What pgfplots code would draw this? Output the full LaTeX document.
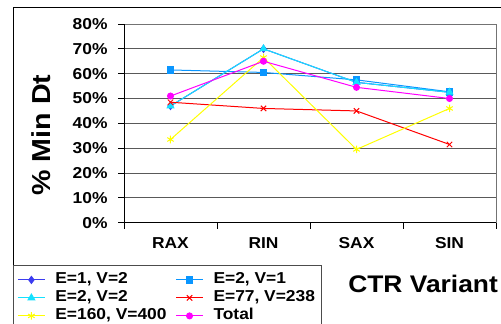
\documentclass[border=0pt]{standalone}
\usepackage{pgfplots}
\pgfplotsset{compat=1.18}
\usepackage{fontspec}
\setmainfont{Liberation Sans}[FakeStretch=1.1]

\definecolor{serA}{RGB}{60,60,240}
\definecolor{serB}{RGB}{10,150,255}
\definecolor{serC}{RGB}{20,225,255}
\definecolor{serD}{RGB}{255,0,0}
\definecolor{serE}{RGB}{255,255,0}
\definecolor{serF}{RGB}{255,0,255}

\begin{document}
\begin{tikzpicture}[x=1pt,y=1pt]
\useasboundingbox (0,0) rectangle (501,324);
% chart frame
\draw[black, line width=1pt] (13,316) rectangle (560,-30);
\begin{axis}[
  at={(124pt,101.3pt)}, anchor=south west,
  scale only axis, width=372pt, height=198.7pt,
  xmin=-0.5, xmax=3.5, ymin=0, ymax=80,
  axis line style={draw=black!55, line width=0.8pt},
  ymajorgrids, major grid style={color=black!65, line width=0.8pt},
  tick label style={font=\fontsize{15.8}{18}\selectfont\bfseries},
  /pgf/number format/assume math mode=true,
  ytick={0,10,...,80},
  yticklabel={\pgfmathprintnumber{\tick}\%},
  xtick={-0.5,0.5,1.5,2.5,3.5}, xticklabels={},
  extra x ticks={0,1,2,3},
  extra x tick labels={RAX,RIN,SAX,SIN},
  extra x tick style={major tick length=0pt},
  xtick pos=left, ytick pos=left,
  tick align=outside, major tick length=6pt,
  tick style={black, line width=0.8pt},
  yticklabel style={xshift=-7pt},
  xticklabel style={yshift=-11pt},
  xlabel={CTR Variant},
  xlabel style={at={(rel axis cs:0.804,-0.309)}, anchor=center,
    font=\fontsize{24}{28}\selectfont\bfseries},
  ylabel={\% Min Dt},
  ylabel style={at={(rel axis cs:-0.223,0.441)}, anchor=center,
    font=\fontsize{26}{30}\selectfont\bfseries},
  legend columns=2,
  legend cell align=left,
  legend style={at={(-0.2984,-0.2129)}, anchor=north west,
    draw=black!70, line width=0.8pt, inner ysep=5.5pt, inner xsep=4pt,
    font=\fontsize{15.8}{18}\selectfont\bfseries,
    nodes={text height=10pt, text depth=3pt, inner ysep=2.5pt},
    row sep=0pt,
    /tikz/every odd column/.append style={column sep=8pt},
    /tikz/every even column/.append style={column sep=7pt}},
  legend image code/.code={\draw[mark repeat=2,mark phase=2] plot coordinates {(0pt,0pt) (13.5pt,0pt) (27pt,0pt)};},
  after end axis/.code={\draw[black, line width=0.9pt] (rel axis cs:0,1) -- (rel axis cs:0,0) -- (rel axis cs:1,0);},
]
\addplot[serA, line width=1pt, mark=diamond*, mark size=3.5pt] coordinates {(0,47) (1,70) (2,56.5) (3,52.5)};
\addlegendentry{E=1, V=2}
\addplot[serB, line width=1pt, mark=square*, mark size=3.2pt] coordinates {(0,61.5) (1,60.5) (2,57.5) (3,52.7)};
\addlegendentry{E=2, V=1}
\addplot[serC, line width=1pt, mark=triangle*, mark size=3.8pt] coordinates {(0,47) (1,70) (2,56.5) (3,52.5)};
\addlegendentry{E=2, V=2}
\addplot[serD, line width=1pt, mark=x, mark size=3.8pt] coordinates {(0,48.5) (1,46) (2,45) (3,31.5)};
\addlegendentry{E=77, V=238}
\addplot[serE, line width=1pt, mark=asterisk, mark size=3.8pt] coordinates {(0,33.5) (1,66.5) (2,29.5) (3,46)};
\addlegendentry{E=160, V=400}
\addplot[serF, line width=1pt, mark=*, mark size=3pt] coordinates {(0,51) (1,65) (2,54.5) (3,50)};
\addlegendentry{Total}
\end{axis}
\end{tikzpicture}
\end{document}
